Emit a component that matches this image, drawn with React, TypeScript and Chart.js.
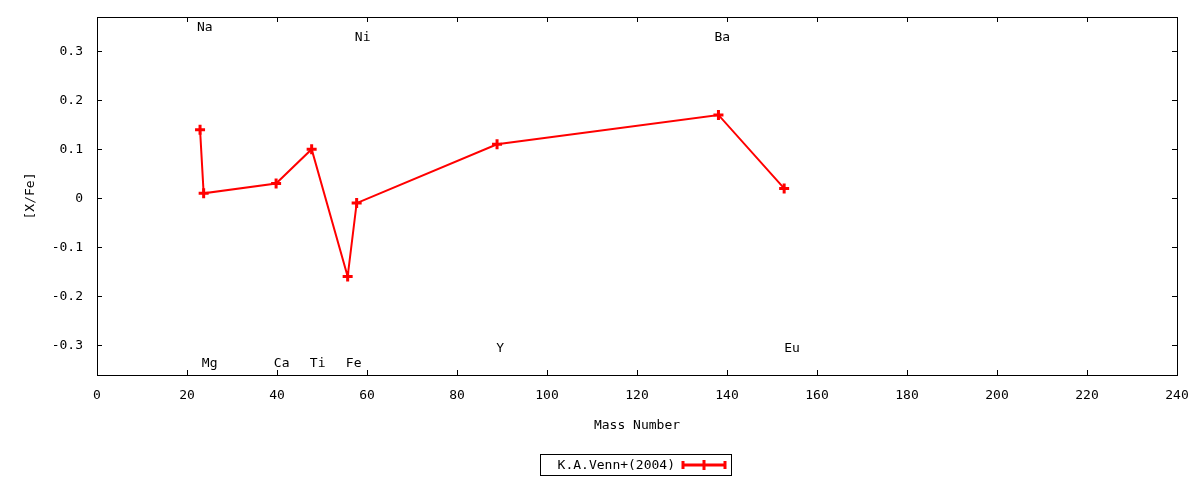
import React, { useEffect, useRef } from "react";
import { Chart, registerables } from "chart.js";

Chart.register(...registerables);

// ---- data ----
const elements = ["Na", "Mg", "Ca", "Ti", "Fe", "Ni", "Y", "Ba", "Eu"];
const massNumbers = [22.9, 23.7, 39.8, 47.7, 55.7, 57.7, 88.9, 138.1, 152.7];
const xFe = [0.14, 0.01, 0.03, 0.1, -0.16, -0.01, 0.11, 0.17, 0.02];

// element annotation positions
const labelX = [22.2, 23.3, 39.3, 47.3, 55.3, 57.3, 88.7, 137.2, 152.7];
const labelY = [0.348, -0.338, -0.338, -0.338, -0.338, 0.328, -0.308, 0.328, -0.308];

const xTicks = [0, 20, 40, 60, 80, 100, 120, 140, 160, 180, 200, 220, 240];
const yTicks = [-0.3, -0.2, -0.1, 0, 0.1, 0.2, 0.3];
const yTickLabels = ["-0.3", "-0.2", "-0.1", "0", "0.1", "0.2", "0.3"];

const seriesLabel = "K.A.Venn+(2004)";
const xTitle = "Mass Number";
const yTitle = "[X/Fe]";

const FONT = "13px 'DejaVu Sans Mono', monospace";
const RED = "#ff0000";

const gnuplotPlugin = {
  id: "gnuplotDecor",
  afterDraw(chart: any) {
    const { ctx, chartArea } = chart;
    const xs = chart.scales.x;
    const ys = chart.scales.y;
    const { left, right, top, bottom } = chartArea;
    ctx.save();
    // border
    ctx.strokeStyle = "#000";
    ctx.lineWidth = 1;
    ctx.strokeRect(Math.round(left) + 0.5, Math.round(top) + 0.5, Math.round(right - left), Math.round(bottom - top));
    // inward ticks
    const tl = 5;
    ctx.beginPath();
    xTicks.forEach((v) => {
      const px = Math.round(xs.getPixelForValue(v)) + 0.5;
      ctx.moveTo(px, bottom);
      ctx.lineTo(px, bottom - tl);
      ctx.moveTo(px, top);
      ctx.lineTo(px, top + tl);
    });
    yTicks.forEach((v) => {
      const py = Math.round(ys.getPixelForValue(v)) + 0.5;
      ctx.moveTo(left, py);
      ctx.lineTo(left + tl, py);
      ctx.moveTo(right, py);
      ctx.lineTo(right - tl, py);
    });
    ctx.stroke();

    // element labels
    ctx.fillStyle = "#000";
    ctx.font = FONT;
    ctx.textAlign = "left";
    ctx.textBaseline = "middle";
    elements.forEach((el, i) => {
      ctx.fillText(el, xs.getPixelForValue(labelX[i]), ys.getPixelForValue(labelY[i]));
    });

    // axis titles
    ctx.textAlign = "center";
    ctx.fillText(xTitle, (left + right) / 2, 426);
    ctx.save();
    ctx.translate(31, (top + bottom) / 2);
    ctx.rotate(-Math.PI / 2);
    ctx.fillText(yTitle, 0, 0);
    ctx.restore();

    // legend
    const bx = 540.5, by = 454.5, bw = 191, bh = 21;
    ctx.strokeStyle = "#000";
    ctx.lineWidth = 1;
    ctx.strokeRect(bx, by, bw, bh);
    ctx.textAlign = "right";
    ctx.fillText(seriesLabel, 675, 466);
    const ly = 465;
    ctx.strokeStyle = RED;
    ctx.lineWidth = 3;
    ctx.beginPath();
    ctx.moveTo(682, ly);
    ctx.lineTo(726, ly);
    ctx.moveTo(683, ly - 4);
    ctx.lineTo(683, ly + 4);
    ctx.moveTo(725, ly - 4);
    ctx.lineTo(725, ly + 4);
    ctx.moveTo(704, ly - 5);
    ctx.lineTo(704, ly + 5);
    ctx.stroke();
    ctx.restore();
  },
};

export default function App() {
  const canvasRef = useRef<HTMLCanvasElement | null>(null);

  useEffect(() => {
    document.body.style.margin = "0";
    const canvas = canvasRef.current;
    if (!canvas) return;
    const chart = new Chart(canvas, {
      type: "line",
      data: {
        datasets: [
          {
            label: seriesLabel,
            data: massNumbers.map((m, i) => ({ x: m, y: xFe[i] })),
            borderColor: RED,
            backgroundColor: RED,
            borderWidth: 2,
            pointStyle: "cross",
            pointRadius: 5,
            pointBorderWidth: 3,
            pointBorderColor: RED,
            tension: 0,
            fill: false,
          },
        ],
      },
      options: {
        responsive: false,
        animation: false,
        devicePixelRatio: 1,
        layout: { padding: { top: 17, right: 23, left: 0, bottom: 0 } },
        plugins: {
          legend: { display: false },
          tooltip: { enabled: false },
        },
        scales: {
          x: {
            type: "linear",
            position: "bottom",
            min: 0,
            max: 240,
            grid: { display: false, drawTicks: false },
            border: { display: false },
            afterBuildTicks: (scale: any) => {
              scale.ticks = xTicks.map((v) => ({ value: v }));
            },
            afterFit: (scale: any) => {
              scale.height = 105;
              scale.paddingLeft = 0;
              scale.paddingRight = 0;
            },
            ticks: {
              autoSkip: false,
              maxRotation: 0,
              padding: 13,
              color: "#000",
              font: { family: "'DejaVu Sans Mono', monospace", size: 13 },
              callback: (v: any) => String(v),
            },
          },
          y: {
            type: "linear",
            min: -0.361,
            max: 0.37,
            grid: { display: false, drawTicks: false },
            border: { display: false },
            afterBuildTicks: (scale: any) => {
              scale.ticks = yTicks.map((v) => ({ value: v }));
            },
            afterFit: (scale: any) => {
              scale.width = 97;
              scale.paddingTop = 0;
              scale.paddingBottom = 0;
            },
            ticks: {
              autoSkip: false,
              padding: 14,
              color: "#000",
              font: { family: "'DejaVu Sans Mono', monospace", size: 13 },
              callback: (v: any) => {
                const idx = yTicks.findIndex((t) => Math.abs(t - Number(v)) < 1e-9);
                return idx >= 0 ? yTickLabels[idx] : "";
              },
            },
          },
        },
      },
      plugins: [gnuplotPlugin],
    } as any);
    return () => chart.destroy();
  }, []);

  return (
    <div style={{ position: "fixed", left: 0, top: 0, width: 1200, height: 480, background: "#fff" }}>
      <canvas ref={canvasRef} width={1200} height={480} style={{ width: 1200, height: 480, display: "block" }} />
    </div>
  );
}
